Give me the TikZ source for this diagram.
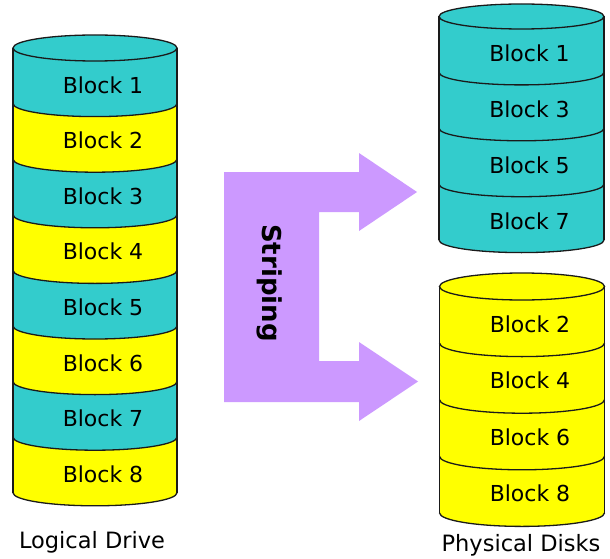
\documentclass[tikz,border=0pt]{standalone}
\usepackage{fontspec}
\setmainfont{DejaVu Sans}
\definecolor{cyanb}{HTML}{33CCCC}
\definecolor{yelb}{HTML}{FFFF00}
\definecolor{purp}{HTML}{CC99FF}
\definecolor{edge}{HTML}{1A1A1A}
\tikzset{
  outl/.style={draw=edge, line width=1.3pt},
  blk/.style={inner sep=0pt, font=\fontsize{22}{26}\selectfont},
  lbl/.style={inner sep=0pt, font=\fontsize{22.5}{26}\selectfont},
}
% #1 name, #2 cx, #3 rx, #4 ry, #5 ytop, #6 band height, #7 top colour, #8 list colour/text, #9 number of bands
\newcommand{\drawcyl}[9]{%
  \foreach \col/\txt [count=\i from 0] in {#8} {
    \pgfmathsetmacro\ya{#5+\i*#6}
    \pgfmathsetmacro\yb{#5+(\i+1)*#6}
    \fill[\col] (#2-#3,-\ya) arc[start angle=180,end angle=360,x radius=#3,y radius=#4]
      -- (#2+#3,-\yb) arc[start angle=0,end angle=-180,x radius=#3,y radius=#4] -- cycle;
  }
  \foreach \col/\txt [count=\i from 0] in {#8} {
    \pgfmathsetmacro\ya{#5+\i*#6}
    \pgfmathsetmacro\yb{#5+(\i+1)*#6}
    \draw[outl] (#2-#3,-\yb) arc[start angle=180,end angle=360,x radius=#3,y radius=#4];
    \node[blk] (#1\i) at (#2+8,-\ya-#6/2-9) {\txt};
  }
  \pgfmathsetmacro\ye{#5+#9*#6}
  \draw[outl] (#2-#3,-#5) -- (#2-#3,-\ye);
  \draw[outl] (#2+#3,-#5) -- (#2+#3,-\ye);
  \draw[outl, fill=#7] (#2,-#5) ellipse[x radius=#3, y radius=#4];
}
\begin{document}
\begin{tikzpicture}[x=1pt,y=1pt]
\useasboundingbox (0,0) rectangle (610,-559);
\fill[white] (0,0) rectangle (610,-559);

\drawcyl{L}{95}{82}{13}{48}{55.6}{cyanb}{cyanb/Block 1,yelb/Block 2,cyanb/Block 3,yelb/Block 4,cyanb/Block 5,yelb/Block 6,cyanb/Block 7,yelb/Block 8}{8}
\drawcyl{A}{521.5}{82.5}{12.5}{16.5}{55.9}{cyanb}{cyanb/Block 1,cyanb/Block 3,cyanb/Block 5,cyanb/Block 7}{4}
\drawcyl{B}{522}{82.5}{13.5}{286.5}{56.6}{yelb}{yelb/Block 2,yelb/Block 4,yelb/Block 6,yelb/Block 8}{4}

% striping arrow
\fill[purp] (224,-172) -- (359,-172) -- (359,-153) -- (417,-192) -- (359,-231) -- (359,-212)
  -- (319,-212) -- (319,-361) -- (359,-361) -- (359,-342) -- (418,-381.5) -- (359,-421)
  -- (359,-402) -- (224,-402) -- cycle;
\node[inner sep=0pt, rotate=-90, font=\fontsize{26}{28}\selectfont\bfseries] (strip) at (270,-283) {Striping};

\node[lbl] (logical) at (92,-542) {Logical Drive};
\node[lbl] (physical) at (521,-545) {Physical Disks};
\end{tikzpicture}
\end{document}
